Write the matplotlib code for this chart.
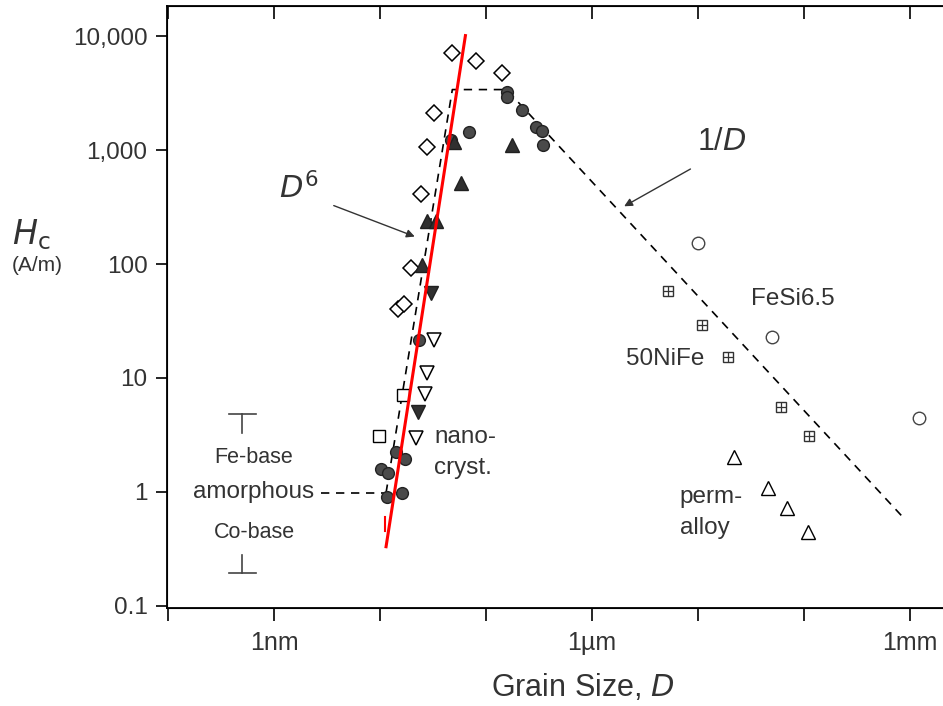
import numpy as np
import matplotlib
matplotlib.use('Agg')
import matplotlib.pyplot as plt
from matplotlib.ticker import FixedLocator, NullLocator

plt.rcParams['font.family'] = ['Liberation Sans', 'DejaVu Sans']
txt = '#333333'

# grain size D in nm, coercivity Hc in A/m
diamond_d = [48.1, 81.2, 140, 32.5, 27.9, 24.5, 19.7, 14.9, 16.9]
diamond_h = [7210, 6130, 4810, 2140, 1075, 416, 93, 40.5, 44.9]

tri_up_d = [50.3, 174, 58.5, 27.9, 34.0, 25.1]
tri_up_h = [1190, 1120, 519, 241, 241, 98.8]

tri_dn_d = [30.5, 23.0]
tri_dn_h = [56.1, 5.05]

open_dn_d = [32.5, 27.9, 26.8, 22.0]
open_dn_h = [21.7, 11.1, 7.27, 2.98]

square_d = [16.6, 9.83]
square_h = [7.12, 3.10]

circle_d = [23.5, 14.2, 17.3, 10.3, 12.0, 11.7, 16.2, 47.1, 69.7, 156, 159, 216, 299, 334, 341]
circle_h = [21.7, 2.25, 1.95, 1.59, 1.47, 0.90, 0.98, 1240, 1456, 3270, 2960, 2275, 1612, 1487, 1120]

fesi_d = [9960, 49900, 1.2e6]
fesi_h = [154, 23.0, 4.47]

nife_d = [5190, 10860, 19100, 60600, 111000]
nife_h = [58.4, 29.3, 15.4, 5.58, 3.11]

perm_d = [21800, 45700, 69000, 109000]
perm_h = [2.03, 1.08, 0.72, 0.445]

# dashed envelope and D^6 fit
env_d = [11.4, 48.1, 156, 901000]
env_h = [0.98, 3410, 3410, 0.567]
amor_d = [2.78, 11.4]
amor_h = [0.98, 0.98]
fit_d = [11.4, 63.9]
fit_h = [0.329, 10160]

fig = plt.figure(figsize=(9.43, 7.06), dpi=100)
ax = fig.add_axes([0.177, 0.139, 0.823, 0.853])
ax.set_xscale('log')
ax.set_yscale('log')
ax.set_xlim(10**-1.01, 10**6.31)
ax.set_ylim(10**-1.02, 10**4.27)

ax.plot(env_d, env_h, ls=(0, (5, 4)), color='black', lw=1.2, zorder=1)
ax.plot(amor_d, amor_h, ls=(0, (5, 4)), color='black', lw=1.2, zorder=1)

mk = dict(ls='none', zorder=3)
ax.plot(diamond_d, diamond_h, marker='D', ms=8, mfc='white', mec='black', mew=1.1, **mk)
ax.plot(circle_d, circle_h, marker='o', ms=8.5, mfc='#4a4a4a', mec='#222222', mew=1, **mk)
ax.plot(tri_up_d, tri_up_h, marker='^', ms=10, mfc='#303030', mec='#202020', mew=1, **mk)
ax.plot(tri_dn_d, tri_dn_h, marker='v', ms=10, mfc='#303030', mec='#202020', mew=1, **mk)
ax.plot(open_dn_d, open_dn_h, marker='v', ms=10, mfc='white', mec='black', mew=1.1, **mk)
ax.plot(square_d, square_h, marker='s', ms=8, mfc='white', mec='black', mew=1, **mk)
ax.plot(fesi_d, fesi_h, marker='o', ms=9, mfc='white', mec='#444444', mew=1, **mk)
ax.plot(nife_d, nife_h, marker='s', ms=7.5, mfc='white', mec='#333333', mew=1, **mk)
ax.plot(nife_d, nife_h, marker='+', ms=7.5, mec='#333333', mew=0.9, **mk)
ax.plot(perm_d, perm_h, marker='^', ms=10, mfc='white', mec='black', mew=1, **mk)

ax.plot(fit_d, fit_h, color='#ff0000', lw=2.2, zorder=4)
ax.plot([11.2, 11.2], [0.603, 0.454], color='#ff0000', lw=1.5, zorder=4)

# amorphous range bars
ax.plot([0.376, 0.676], [4.85, 4.85], color='#444444', lw=1.2)
ax.plot([0.50, 0.50], [4.85, 3.3], color='#444444', lw=1.2)
ax.plot([0.376, 0.676], [0.194, 0.194], color='#444444', lw=1.2)
ax.plot([0.50, 0.50], [0.194, 0.279], color='#444444', lw=1.2)

fs = 17.5
ax.text(0.647, 1.99, 'Fe-base', ha='center', va='center', fontsize=15.5, color=txt)
ax.text(0.647, 1.0, 'amorphous', ha='center', va='center', fontsize=17.5, color=txt)
ax.text(0.647, 0.436, 'Co-base', ha='center', va='center', fontsize=15.5, color=txt)
ax.text(32.5, 3.04, 'nano-', ha='left', va='center', fontsize=fs, color=txt)
ax.text(32.5, 1.63, 'cryst.', ha='left', va='center', fontsize=fs, color=txt)
ax.text(78700, 49.7, 'FeSi6.5', ha='center', va='center', fontsize=fs, color=txt)
ax.text(4850, 14.8, '50NiFe', ha='center', va='center', fontsize=fs, color=txt)
ax.text(6730, 0.904, 'perm-', ha='left', va='center', fontsize=fs, color=txt)
ax.text(6730, 0.483, 'alloy', ha='left', va='center', fontsize=fs, color=txt)

ax.annotate('', xy=(22.5, 171), xytext=(3.46, 333),
            arrowprops=dict(arrowstyle='-|>', color='#333333', lw=1, mutation_scale=12))
ax.text(1.72, 451, r'$\mathit{D}^{6}$', ha='center', va='center', fontsize=22, color=txt)
ax.annotate('', xy=(1905, 313), xytext=(8930, 703),
            arrowprops=dict(arrowstyle='-|>', color='#333333', lw=1, mutation_scale=12))
ax.text(16800, 1190, r'1/$\mathit{D}$', ha='center', va='center', fontsize=22, color=txt)

# axes styling
ax.spines['right'].set_visible(False)
for s in ['top', 'left', 'bottom']:
    ax.spines[s].set_linewidth(1.3)
ax.xaxis.set_major_locator(FixedLocator([10.0**k for k in range(-1, 7)]))
ax.xaxis.set_minor_locator(NullLocator())
ax.set_xticklabels(['', '1nm', '', '', '1µm', '', '', '1mm'])
ax.yaxis.set_major_locator(FixedLocator([0.1, 1, 10, 100, 1000, 10000]))
ax.yaxis.set_minor_locator(NullLocator())
ax.set_yticklabels(['0.1', '1', '10', '100', '1,000', '10,000'])
ax.tick_params(axis='x', direction='out', length=9, width=1.2, labelsize=18,
               labelcolor=txt, pad=8, top=False)
ax.tick_params(axis='y', direction='out', length=8, width=1.2, labelsize=17.5,
               labelcolor=txt, pad=6, right=False)

top = ax.twiny()
top.set_xscale('log')
top.set_xlim(ax.get_xlim())
top.xaxis.set_major_locator(FixedLocator([10.0**k for k in range(-1, 7)]))
top.xaxis.set_minor_locator(NullLocator())
top.tick_params(axis='x', direction='in', length=9, width=1.2, labeltop=False)
top.spines['right'].set_visible(False)

fig.text(0.033, 0.667, r'$\mathit{H}_{\mathrm{c}}$', fontsize=24, color=txt, ha='center', va='center')
fig.text(0.039, 0.624, '(A/m)', fontsize=15, color=txt, ha='center', va='center')
fig.text(0.618, 0.026, r'Grain Size, $\mathit{D}$', fontsize=22, color=txt, ha='center', va='center')

fig.savefig('out.png', dpi=100)
